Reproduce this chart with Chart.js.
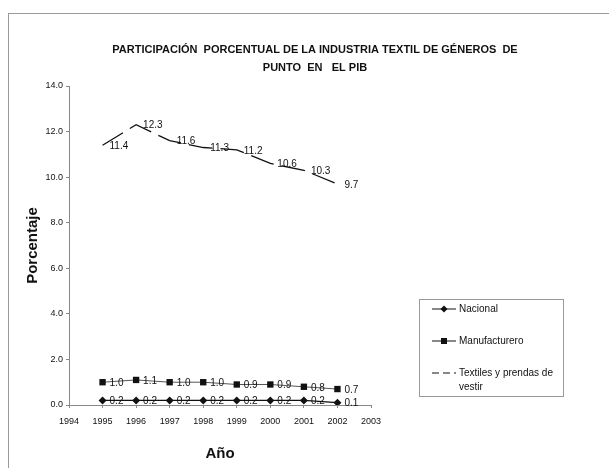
<!DOCTYPE html>
<html>
<head>
<meta charset="utf-8">
<script src="https://cdn.jsdelivr.net/npm/chart.js@4"></script>
<style>
  html, body { margin: 0; padding: 0; background: #fff; }
  #wrap { width: 609px; height: 468px; }
</style>
</head>
<body>
<div id="wrap"><canvas id="chart" width="609" height="468"></canvas></div>
<script>
const years = [1995, 1996, 1997, 1998, 1999, 2000, 2001, 2002];
const nacional = [0.2, 0.2, 0.2, 0.2, 0.2, 0.2, 0.2, 0.1];
const manufacturero = [1.0, 1.1, 1.0, 1.0, 0.9, 0.9, 0.8, 0.7];
const textiles = [11.4, 12.3, 11.6, 11.3, 11.2, 10.6, 10.3, 9.7];
const titleLines = [
  "PARTICIPACIÓN  PORCENTUAL DE LA INDUSTRIA TEXTIL DE GÉNEROS  DE",
  "PUNTO  EN   EL PIB"
];

const FONT = "'Liberation Sans Narrow', 'Arial Narrow', 'Liberation Sans', Arial, sans-serif";

function toPoints(vals) {
  return vals.map((v, i) => ({ x: years[i], y: v }));
}

// frame around the chart, plus the two-line title centred on the page
const framePlugin = {
  id: "frame",
  beforeDraw(chart) {
    const ctx = chart.ctx;
    ctx.save();
    ctx.strokeStyle = "#9a9a9a";
    ctx.lineWidth = 1;
    ctx.strokeRect(8.5, 13.5, 640, 500);
    ctx.font = "bold 11px " + FONT;
    ctx.fillStyle = "#111";
    ctx.textAlign = "center";
    ctx.textBaseline = "middle";
    titleLines.forEach((t, i) => ctx.fillText(t, 315, 50 + i * 18));
    ctx.restore();
  }
};

// value labels to the right of each point
const labelPlugin = {
  id: "valueLabels",
  afterDatasetsDraw(chart) {
    const ctx = chart.ctx;
    ctx.save();
    ctx.font = "10px " + FONT;
    ctx.fillStyle = "#111";
    ctx.textBaseline = "middle";
    ctx.textAlign = "left";
    chart.data.datasets.forEach((ds, di) => {
      const meta = chart.getDatasetMeta(di);
      meta.data.forEach((pt, i) => {
        const v = ds.data[i].y;
        ctx.fillText(v.toFixed(1), pt.x + 7, pt.y + 1);
      });
    });
    ctx.restore();
  }
};

// legend box on the right
const legendPlugin = {
  id: "boxLegend",
  afterDraw(chart) {
    const ctx = chart.ctx;
    const bx = 419, by = 299, bw = 144, bh = 97;
    ctx.save();
    ctx.strokeStyle = "#999";
    ctx.lineWidth = 1;
    ctx.strokeRect(bx + 0.5, by + 0.5, bw, bh);
    ctx.font = "10px " + FONT;
    ctx.fillStyle = "#111";
    ctx.textBaseline = "middle";
    const rows = [
      { y: 309, label: ["Nacional"], marker: "diamond", dash: [] },
      { y: 341, label: ["Manufacturero"], marker: "square", dash: [] },
      { y: 373, label: ["Textiles y prendas de", "vestir"], marker: null, dash: [7, 4] }
    ];
    rows.forEach(r => {
      ctx.strokeStyle = "#111";
      ctx.setLineDash(r.dash);
      ctx.beginPath();
      ctx.moveTo(432, r.y);
      ctx.lineTo(456, r.y);
      ctx.stroke();
      ctx.setLineDash([]);
      if (r.marker === "diamond") {
        ctx.beginPath();
        ctx.moveTo(444, r.y - 3.5);
        ctx.lineTo(447.5, r.y);
        ctx.lineTo(444, r.y + 3.5);
        ctx.lineTo(440.5, r.y);
        ctx.closePath();
        ctx.fill();
      } else if (r.marker === "square") {
        ctx.fillRect(441, r.y - 3, 6, 6);
      }
      r.label.forEach((t, k) => ctx.fillText(t, 459, r.y + k * 14));
    });
    ctx.restore();
  }
};

new Chart(document.getElementById("chart"), {
  type: "line",
  data: {
    datasets: [
      {
        label: "Nacional",
        data: toPoints(nacional),
        borderColor: "#111",
        backgroundColor: "#111",
        borderWidth: 1.2,
        pointStyle: "rectRot",
        pointRadius: 4,
        pointBorderWidth: 0
      },
      {
        label: "Manufacturero",
        data: toPoints(manufacturero),
        borderColor: "#555",
        backgroundColor: "#111",
        borderWidth: 1,
        pointStyle: "rect",
        pointRadius: 4.5,
        pointBorderWidth: 0
      },
      {
        label: "Textiles y prendas de vestir",
        data: toPoints(textiles),
        borderColor: "#111",
        borderWidth: 1.3,
        borderDash: [24, 8],
        pointRadius: 0
      }
    ]
  },
  options: {
    responsive: false,
    animation: false,
    layout: { padding: { left: 20, right: 238, top: 86, bottom: 1 } },
    plugins: {
      legend: { display: false },
      tooltip: { enabled: false },
      title: { display: false }
    },
    scales: {
      x: {
        type: "linear",
        min: 1994,
        max: 2003,
        ticks: {
          stepSize: 1,
          color: "#111",
          font: { family: FONT, size: 9 },
          callback: v => String(v),
          padding: 8
        },
        grid: { drawOnChartArea: false, drawTicks: true, tickLength: 3, color: "#888" },
        border: { color: "#888" },
        title: {
          display: true,
          text: "Año",
          color: "#111",
          font: { family: "'Liberation Sans', Arial, sans-serif", size: 15, weight: "bold" },
          padding: { top: 8 }
        },
        afterFit(scale) { scale.height = 62; }
      },
      y: {
        min: 0,
        max: 14,
        ticks: {
          stepSize: 2,
          color: "#111",
          font: { family: FONT, size: 9 },
          callback: v => v.toFixed(1),
          padding: 3
        },
        grid: { drawOnChartArea: false, drawTicks: true, tickLength: 3, color: "#888" },
        border: { color: "#888" },
        title: {
          display: true,
          text: "Porcentaje",
          color: "#111",
          font: { family: "'Liberation Sans', Arial, sans-serif", size: 15, weight: "bold" },
          padding: { bottom: 8 }
        },
        afterFit(scale) { scale.width = 49; }
      }
    }
  },
  plugins: [framePlugin, labelPlugin, legendPlugin]
});
</script>
</body>
</html>
